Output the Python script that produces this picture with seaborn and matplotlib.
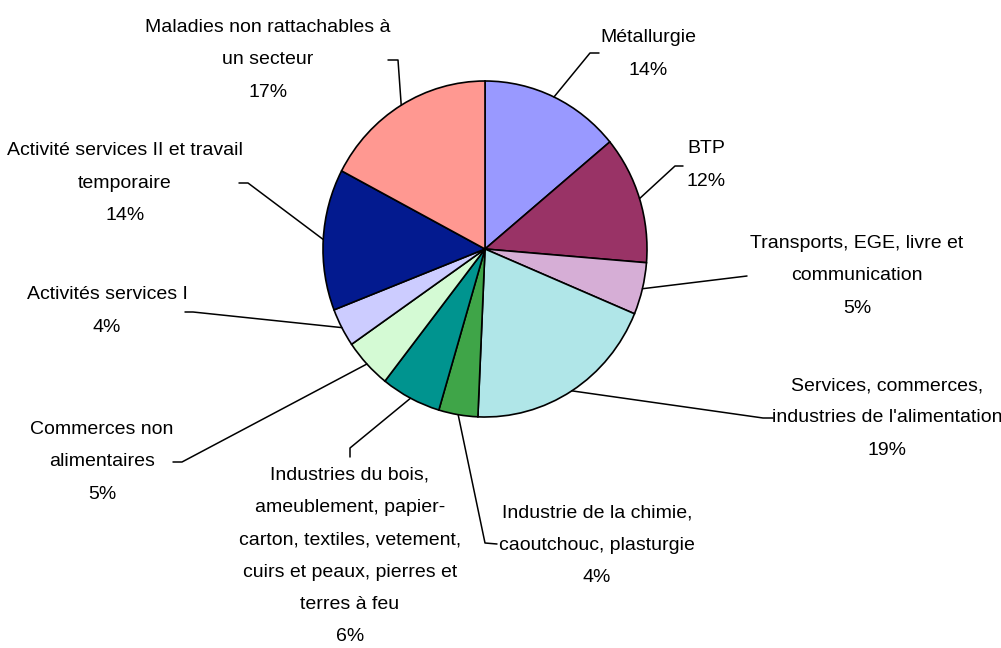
import numpy as np
import matplotlib
matplotlib.use("Agg")
import matplotlib.pyplot as plt
from matplotlib.lines import Line2D
from matplotlib.transforms import IdentityTransform
import seaborn as sns

# secteurs, sens horaire depuis midi
secteurs = ["Métallurgie", "BTP", "Transports, EGE, livre et\ncommunication",
            "Services, commerces,\nindustries de l'alimentation",
            "Industrie de la chimie,\ncaoutchouc, plasturgie",
            "Industries du bois,\nameublement, papier-\ncarton, textiles, vetement,\ncuirs et peaux, pierres et\nterres à feu",
            "Commerces non\nalimentaires", "Activités services I",
            "Activité services II et travail\ntemporaire",
            "Maladies non rattachables à\nun secteur"]
parts = [14.0, 12.3, 5.0, 19.4, 3.9, 6.0, 4.8, 3.7, 13.6, 17.3]
couleurs = ["#9999FF", "#993366", "#D6AED6", "#B0E6E8", "#3FA548",
            "#00948F", "#D4FAD4", "#CCCCFF", "#031A8F", "#FF9891"]

W, H = 1001, 648
# position du texte (pixels, origine en haut) et coude du trait
pos_txt = [(648, 54), (706, 165), (857, 276), (887, 418), (597, 545),
           (350, 556), (102, 462), (107, 311), (125, 183), (268, 60)]
coude = [[(590, 53), (599, 53)], [(675, 166), (683, 166)], [(747, 276)],
         [(763, 418), (773, 418)], [(485, 543), (497, 544)],
         [(350, 448), (350, 457)], [(182, 462), (173, 462)],
         [(193, 312), (185, 312)], [(248, 183), (239, 183)],
         [(398, 60), (388, 60)]]

sns.set_theme(style="white")
plt.rcParams["font.family"] = ["Liberation Sans", "DejaVu Sans"]

fig = plt.figure(figsize=(W / 100, H / 100), dpi=100)
cx, cy, rx, ry = 485, 249, 162, 168
ax = fig.add_axes([(cx - rx) / W, 1 - (cy + ry) / H, 2 * rx / W, 2 * ry / H])
wedges, _ = ax.pie(parts, colors=couleurs, startangle=90, counterclock=False,
                   wedgeprops=dict(edgecolor="black", linewidth=1.2))
for w in wedges:
    w.set_clip_on(False)
ax.set_xlim(-1, 1)
ax.set_ylim(-1, 1)
ax.set_aspect("auto")
ax.axis("off")

fig.canvas.draw()
for w, lab, v, (tx, ty), pts in zip(wedges, secteurs, parts, pos_txt, coude):
    mid = np.deg2rad((w.theta1 + w.theta2) / 2)
    px, py = ax.transData.transform((np.cos(mid), np.sin(mid)))
    xs = [px] + [p[0] for p in pts]
    ys = [py] + [H - p[1] for p in pts]
    fig.add_artist(Line2D(xs, ys, color="black", linewidth=1.1, transform=IdentityTransform()))
    fig.text(tx / W, 1 - ty / H, f"{lab}\n{round(v):.0f}%", ha="center", va="center",
             multialignment="center", fontsize=14, linespacing=2.18, color="black")

fig.savefig("out.png", dpi=100, facecolor="white")
